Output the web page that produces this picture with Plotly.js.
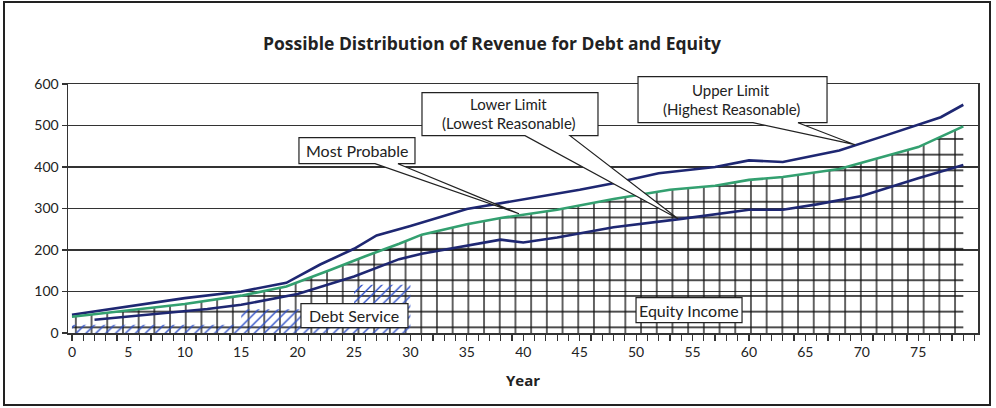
<!DOCTYPE html>
<html>
<head>
<meta charset="utf-8">
<script src="https://cdn.plot.ly/plotly-3.0.1.min.js"></script>
<style>
  html, body { margin: 0; padding: 0; background: #fff; }
  #wrap { position: relative; width: 996px; height: 408px; }
  #chart { width: 996px; height: 408px; }
  #frame { position: absolute; left: 3px; top: 1px; width: 984px; height: 401px; border: 2.5px solid #222; pointer-events: none; }
</style>
</head>
<body>
<div id="wrap">
  <div id="chart"></div>
  <div id="frame"></div>
</div>
<script>
// ---- Data ----
const upperYears  = [0, 10, 15, 19, 22, 25, 27, 30, 35, 40, 45, 48, 52, 57, 60, 63, 68, 72, 77, 79];
const upperValues = [44, 84, 100, 121, 165, 203, 235, 258, 299, 322, 345, 361, 385, 400, 416, 412, 440, 475, 520, 550];

const probYears   = [0, 10, 15, 19, 23, 26, 29, 31, 35, 38, 43, 48, 53, 57, 60, 63, 68, 72, 75, 79];
const probValues  = [39, 70, 90, 112, 153, 185, 215, 237, 262, 277, 297, 323, 345, 355, 369, 376, 395, 425, 448, 498];

const lowerYears  = [2, 11, 12, 15, 20, 25, 29, 31, 34, 38, 40, 43, 48, 54, 60, 63, 66, 70, 75, 79];
const lowerValues = [32, 54, 58, 68, 94, 136, 178, 191, 205, 225, 218, 230, 255, 275, 297, 297, 310, 330, 373, 405];

const debtYears   = [0, 15, 25, 30];
const debtValues  = [20, 57, 116, 116];

const xTickValues = [0, 5, 10, 15, 20, 25, 30, 35, 40, 45, 50, 55, 60, 65, 70, 75];
const yTickValues = [0, 100, 200, 300, 400, 500, 600];

const NAVY = '#1e2772';
const GREEN = '#33a070';
const FONT = 'Lato, "Open Sans", "DejaVu Sans", sans-serif';

const traces = [
  { // Equity income mesh under the most probable line
    x: probYears, y: probValues, type: 'scatter', mode: 'none',
    fill: 'tozeroy', fillcolor: 'rgba(0,0,0,0)',
    fillpattern: { shape: '+', size: 15.7, solidity: 0.16, fgcolor: '#111', bgcolor: 'rgba(0,0,0,0)' },
    hoverinfo: 'skip', showlegend: false
  },
  { // Debt service hatch
    x: debtYears, y: debtValues, type: 'scatter', mode: 'none',
    line: { shape: 'hv' },
    fill: 'tozeroy', fillcolor: 'rgba(0,0,0,0)',
    fillpattern: { shape: '/', size: 7, solidity: 0.2, fgcolor: '#2f50c8', bgcolor: 'rgba(0,0,0,0)' },
    hoverinfo: 'skip', showlegend: false
  },
  { x: upperYears, y: upperValues, type: 'scatter', mode: 'lines',
    line: { color: NAVY, width: 2.6 }, showlegend: false, name: 'Upper Limit' },
  { x: probYears, y: probValues, type: 'scatter', mode: 'lines',
    line: { color: GREEN, width: 2.6 }, showlegend: false, name: 'Most Probable' },
  { x: lowerYears, y: lowerValues, type: 'scatter', mode: 'lines',
    line: { color: NAVY, width: 2.6 }, showlegend: false, name: 'Lower Limit' }
];

// callout boxes (paper coordinates)
function callout(l, r, t, b, w1, w2, tx, ty) {
  let d = `M${l},${t} L${r},${t} L${r},${b}`;
  if (w1 !== null) d += ` L${w2},${b} L${tx},${ty} L${w1},${b}`;
  d += ` L${l},${b} Z`;
  return { type: 'path', xref: 'paper', yref: 'paper', path: d, layer: 'above',
           fillcolor: '#ffffff', line: { color: '#222', width: 1.2 } };
}

const shapes = [
  callout(0.2538, 0.3813, 0.7843, 0.6799, 0.3374, 0.3626, 0.4956, 0.4791),
  callout(0.3890, 0.5824, 0.9651, 0.7924, 0.5022, 0.5516, 0.6703, 0.4590),
  callout(0.6264, 0.8341, 1.0293, 0.8446, 0.7527, 0.8022, 0.8648, 0.7562),
  callout(0.2560, 0.3736, 0.1177, 0.0213, null, null, 0, 0),
  callout(0.6242, 0.7407, 0.1418, 0.0414, null, null, 0, 0)
];

function label(text, x, y, size) {
  return { text: text, xref: 'paper', yref: 'paper', x: x, y: y, showarrow: false,
           xanchor: 'center', yanchor: 'middle', align: 'center',
           font: { family: FONT, size: size || 16, color: '#222' } };
}

const annotations = [
  label('Most Probable', 0.3176, 0.7322),
  label('Lower Limit', 0.4846, 0.9189, 15),
  label('(Lowest Reasonable)', 0.4846, 0.8426, 15),
  label('Upper Limit', 0.7286, 0.9751, 15),
  label('(Highest Reasonable)', 0.7286, 0.8988, 15),
  label('Debt Service', 0.3148, 0.0695),
  label('Equity Income', 0.6824, 0.0916)
];

const layout = {
  width: 996, height: 408,
  margin: { l: 68, r: 18, t: 84, b: 75 },
  paper_bgcolor: '#ffffff', plot_bgcolor: '#ffffff',
  font: { family: FONT, size: 14, color: '#222' },
  title: { text: '<b>Possible Distribution of Revenue for Debt and Equity</b>',
           x: 0.494, xref: 'container', xanchor: 'center',
           y: 0.892, yref: 'container', yanchor: 'middle',
           font: { family: '"Open Sans", Lato, sans-serif', size: 17.5, color: '#222' } },
  xaxis: {
    range: [-0.35, 80.3], tickvals: xTickValues,
    ticks: 'outside', ticklen: 6, tickcolor: '#333', tickwidth: 1.2,
    minor: { dtick: 1, tick0: 0, ticks: 'outside', ticklen: 6, tickcolor: '#333', tickwidth: 1.2, showgrid: false },
    showline: true, linecolor: '#333', linewidth: 1.5, mirror: true,
    showgrid: false, zeroline: false,
    tickfont: { family: FONT, size: 14, color: '#222' },
    title: { text: '<b>Year</b>', font: { family: '"Open Sans", Lato, sans-serif', size: 15, color: '#222' }, standoff: 16 }
  },
  yaxis: {
    range: [0, 600], tickvals: yTickValues,
    ticks: 'outside', ticklen: 5, tickcolor: '#333', tickwidth: 1.2,
    showline: true, linecolor: '#333', linewidth: 1.5, mirror: true,
    showgrid: true, gridcolor: '#333', gridwidth: 1.4, zeroline: false,
    tickfont: { family: FONT, size: 14, color: '#222' }
  },
  shapes: shapes,
  annotations: annotations
};

Plotly.newPlot('chart', traces, layout, { displayModeBar: false, staticPlot: true });
</script>
</body>
</html>
